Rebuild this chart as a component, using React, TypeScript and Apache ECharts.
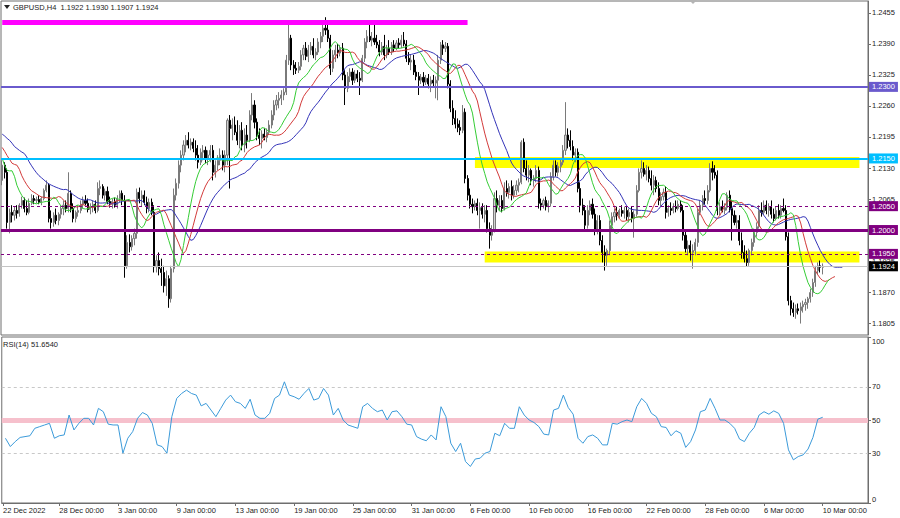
import React, { useEffect, useRef } from 'react';
import * as echarts from 'echarts';

const symbolName = 'GBPUSD,H4';

// H4 candles [open, high, low, close], 22 Dec 2022 -> 10 Mar 2023
const candles: number[][] = [
  // 0-9
  [1.2104,1.2146,1.2094,1.2136],[1.2136,1.2142,1.2108,1.2121],[1.2121,1.2129,1.2003,1.2016],[1.2016,1.2045,1.1993,1.2037],[1.2037,1.2052,1.2016,1.2031],
  [1.2031,1.2049,1.2020,1.2041],[1.2041,1.2052,1.2024,1.2035],[1.2035,1.2056,1.2028,1.2052],[1.2052,1.2070,1.2045,1.2062],[1.2062,1.2068,1.2037,1.2045],
  // 10-19
  [1.2045,1.2062,1.2031,1.2037],[1.2037,1.2066,1.2033,1.2056],[1.2056,1.2075,1.2052,1.2066],[1.2066,1.2073,1.2054,1.2062],[1.2062,1.2070,1.2056,1.2064],
  [1.2064,1.2073,1.2054,1.2058],[1.2058,1.2070,1.2052,1.2066],[1.2066,1.2087,1.2062,1.2083],[1.2083,1.2104,1.2079,1.2094],[1.2094,1.2098,1.2016,1.2024],
  // 20-29
  [1.2024,1.2041,1.2003,1.2016],[1.2016,1.2037,1.2007,1.2031],[1.2031,1.2045,1.2012,1.2020],[1.2020,1.2037,1.2010,1.2033],[1.2033,1.2052,1.2024,1.2045],
  [1.2045,1.2062,1.2031,1.2052],[1.2052,1.2062,1.2037,1.2045],[1.2045,1.2121,1.2037,1.2077],[1.2077,1.2083,1.2037,1.2045],[1.2045,1.2056,1.2016,1.2024],
  // 30-39
  [1.2024,1.2041,1.2016,1.2037],[1.2037,1.2052,1.2028,1.2041],[1.2041,1.2062,1.2035,1.2054],[1.2054,1.2070,1.2045,1.2062],[1.2062,1.2073,1.2052,1.2056],
  [1.2056,1.2066,1.2037,1.2043],[1.2043,1.2056,1.2033,1.2049],[1.2049,1.2062,1.2037,1.2054],[1.2054,1.2062,1.2035,1.2041],[1.2041,1.2100,1.2037,1.2087],
  // 40-49
  [1.2087,1.2104,1.2073,1.2091],[1.2091,1.2096,1.2066,1.2073],[1.2073,1.2087,1.2062,1.2081],[1.2081,1.2091,1.2054,1.2060],[1.2060,1.2070,1.2047,1.2054],
  [1.2054,1.2066,1.2045,1.2060],[1.2060,1.2068,1.2047,1.2052],[1.2052,1.2073,1.2045,1.2066],[1.2066,1.2083,1.2058,1.2077],[1.2077,1.2083,1.2052,1.2062],
  // 50-59
  [1.2062,1.2073,1.1900,1.1925],[1.1925,1.1989,1.1919,1.1974],[1.1974,1.1991,1.1953,1.1965],[1.1965,1.1989,1.1957,1.1982],[1.1982,1.2003,1.1968,1.1993],
  [1.1993,1.2087,1.1982,1.2079],[1.2079,1.2089,1.2056,1.2066],[1.2066,1.2083,1.2049,1.2073],[1.2073,1.2083,1.2052,1.2058],[1.2058,1.2070,1.2035,1.2045],
  // 60-69
  [1.2045,1.2066,1.2037,1.2058],[1.2058,1.2066,1.2031,1.2037],[1.2037,1.2052,1.1911,1.1923],[1.1923,1.1947,1.1911,1.1936],[1.1936,1.1953,1.1905,1.1919],
  [1.1919,1.1940,1.1883,1.1911],[1.1911,1.1925,1.1869,1.1883],[1.1883,1.1915,1.1862,1.1898],[1.1898,1.1905,1.1837,1.1856],[1.1856,1.1925,1.1848,1.1919],
  // 70-79
  [1.1919,1.2087,1.1911,1.2073],[1.2073,1.2108,1.2062,1.2098],[1.2098,1.2146,1.2087,1.2136],[1.2136,1.2167,1.2121,1.2157],[1.2157,1.2188,1.2146,1.2178],
  [1.2178,1.2199,1.2163,1.2188],[1.2188,1.2205,1.2171,1.2178],[1.2178,1.2192,1.2167,1.2184],[1.2184,1.2192,1.2163,1.2171],[1.2171,1.2188,1.2146,1.2157],
  // 80-89
  [1.2157,1.2178,1.2129,1.2142],[1.2142,1.2171,1.2136,1.2163],[1.2163,1.2178,1.2146,1.2167],[1.2167,1.2175,1.2140,1.2150],[1.2150,1.2167,1.2136,1.2157],
  [1.2157,1.2178,1.2142,1.2167],[1.2167,1.2178,1.2104,1.2121],[1.2121,1.2146,1.2110,1.2136],[1.2136,1.2157,1.2125,1.2146],[1.2146,1.2171,1.2136,1.2157],
  // 90-99
  [1.2157,1.2167,1.2125,1.2136],[1.2136,1.2167,1.2121,1.2157],[1.2157,1.2234,1.2136,1.2230],[1.2230,1.2241,1.2087,1.2213],[1.2213,1.2234,1.2188,1.2220],
  [1.2220,1.2238,1.2199,1.2205],[1.2205,1.2230,1.2178,1.2188],[1.2188,1.2220,1.2171,1.2209],[1.2209,1.2226,1.2167,1.2178],[1.2178,1.2213,1.2163,1.2199],
  // 100-109
  [1.2199,1.2220,1.2171,1.2188],[1.2188,1.2251,1.2184,1.2241],[1.2241,1.2287,1.2230,1.2262],[1.2262,1.2272,1.2213,1.2226],[1.2226,1.2234,1.2188,1.2199],
  [1.2199,1.2213,1.2178,1.2192],[1.2192,1.2209,1.2171,1.2201],[1.2201,1.2213,1.2188,1.2194],[1.2194,1.2213,1.2184,1.2205],[1.2205,1.2230,1.2199,1.2220],
  // 110-119
  [1.2220,1.2251,1.2213,1.2241],[1.2241,1.2272,1.2230,1.2262],[1.2262,1.2283,1.2251,1.2272],[1.2272,1.2289,1.2255,1.2276],[1.2276,1.2293,1.2262,1.2283],
  [1.2283,1.2297,1.2272,1.2289],[1.2289,1.2367,1.2283,1.2356],[1.2356,1.2436,1.2346,1.2402],[1.2402,1.2409,1.2335,1.2346],[1.2346,1.2356,1.2325,1.2339],
  // 120-129
  [1.2339,1.2352,1.2327,1.2335],[1.2335,1.2352,1.2329,1.2343],[1.2343,1.2377,1.2335,1.2367],[1.2367,1.2388,1.2356,1.2381],[1.2381,1.2394,1.2356,1.2364],
  [1.2364,1.2388,1.2352,1.2377],[1.2377,1.2394,1.2367,1.2385],[1.2385,1.2402,1.2360,1.2367],[1.2367,1.2381,1.2356,1.2373],[1.2373,1.2402,1.2367,1.2394],
  // 130-139
  [1.2394,1.2415,1.2381,1.2406],[1.2406,1.2436,1.2394,1.2423],[1.2423,1.2446,1.2409,1.2419],[1.2419,1.2430,1.2394,1.2402],[1.2402,1.2409,1.2325,1.2339],
  [1.2339,1.2377,1.2331,1.2367],[1.2367,1.2388,1.2352,1.2377],[1.2377,1.2390,1.2360,1.2371],[1.2371,1.2388,1.2364,1.2381],[1.2381,1.2392,1.2314,1.2325],
  // 140-149
  [1.2325,1.2335,1.2262,1.2297],[1.2297,1.2331,1.2289,1.2322],[1.2322,1.2339,1.2310,1.2331],[1.2331,1.2339,1.2304,1.2314],[1.2314,1.2335,1.2308,1.2327],
  [1.2327,1.2335,1.2310,1.2318],[1.2318,1.2331,1.2283,1.2314],[1.2314,1.2367,1.2310,1.2360],[1.2360,1.2402,1.2352,1.2394],[1.2394,1.2419,1.2381,1.2406],
  // 150-159
  [1.2406,1.2430,1.2394,1.2398],[1.2398,1.2415,1.2385,1.2402],[1.2402,1.2430,1.2388,1.2394],[1.2394,1.2409,1.2381,1.2388],[1.2388,1.2398,1.2364,1.2373],
  [1.2373,1.2394,1.2367,1.2385],[1.2385,1.2409,1.2356,1.2367],[1.2367,1.2388,1.2360,1.2381],[1.2381,1.2398,1.2367,1.2373],[1.2373,1.2394,1.2367,1.2388],
  // 160-169
  [1.2388,1.2398,1.2373,1.2381],[1.2381,1.2398,1.2377,1.2392],[1.2392,1.2402,1.2381,1.2388],[1.2388,1.2409,1.2381,1.2398],[1.2398,1.2415,1.2385,1.2390],
  [1.2390,1.2398,1.2352,1.2360],[1.2360,1.2373,1.2346,1.2352],[1.2352,1.2367,1.2335,1.2356],[1.2356,1.2367,1.2325,1.2331],[1.2331,1.2346,1.2314,1.2322],
  // 170-179
  [1.2322,1.2331,1.2283,1.2314],[1.2314,1.2327,1.2306,1.2320],[1.2320,1.2331,1.2301,1.2310],[1.2310,1.2325,1.2304,1.2318],[1.2318,1.2327,1.2297,1.2306],
  [1.2306,1.2322,1.2289,1.2314],[1.2314,1.2325,1.2301,1.2308],[1.2308,1.2322,1.2276,1.2314],[1.2314,1.2367,1.2272,1.2356],[1.2356,1.2394,1.2348,1.2388],
  // 180-189
  [1.2388,1.2398,1.2367,1.2381],[1.2381,1.2394,1.2373,1.2385],[1.2385,1.2392,1.2297,1.2306],[1.2306,1.2314,1.2247,1.2255],[1.2255,1.2272,1.2220,1.2234],
  [1.2234,1.2251,1.2213,1.2222],[1.2222,1.2234,1.2205,1.2215],[1.2215,1.2230,1.2199,1.2209],[1.2209,1.2262,1.2203,1.2247],[1.2247,1.2255,1.2098,1.2108],
  // 190-199
  [1.2108,1.2115,1.2062,1.2073],[1.2073,1.2087,1.2045,1.2054],[1.2054,1.2066,1.2035,1.2049],[1.2049,1.2062,1.2041,1.2056],[1.2056,1.2066,1.2031,1.2041],
  [1.2041,1.2058,1.2003,1.2047],[1.2047,1.2056,1.2024,1.2033],[1.2033,1.2052,1.2016,1.2041],[1.2041,1.2052,1.1995,1.2003],[1.2003,1.2016,1.1961,1.1989],
  // 200-209
  [1.1989,1.2010,1.1978,1.1999],[1.1999,1.2079,1.1995,1.2066],[1.2066,1.2083,1.2037,1.2052],[1.2052,1.2073,1.2041,1.2062],[1.2062,1.2073,1.2037,1.2045],
  [1.2045,1.2100,1.2041,1.2087],[1.2087,1.2104,1.2070,1.2079],[1.2079,1.2098,1.2066,1.2091],[1.2091,1.2104,1.2062,1.2073],[1.2073,1.2094,1.2066,1.2083],
  // 210-219
  [1.2083,1.2104,1.2073,1.2094],[1.2094,1.2108,1.2079,1.2100],[1.2100,1.2188,1.2096,1.2184],[1.2184,1.2192,1.2121,1.2129],[1.2129,1.2146,1.2104,1.2115],
  [1.2115,1.2136,1.2100,1.2125],[1.2125,1.2129,1.2094,1.2104],[1.2104,1.2115,1.2091,1.2108],[1.2108,1.2136,1.2100,1.2125],[1.2125,1.2133,1.2045,1.2056],
  // 220-229
  [1.2056,1.2066,1.2041,1.2052],[1.2052,1.2066,1.2045,1.2062],[1.2062,1.2070,1.2041,1.2049],[1.2049,1.2062,1.2037,1.2056],[1.2056,1.2121,1.2049,1.2112],
  [1.2112,1.2146,1.2104,1.2136],[1.2136,1.2146,1.2112,1.2121],[1.2121,1.2142,1.2112,1.2133],[1.2133,1.2150,1.2121,1.2142],[1.2142,1.2178,1.2136,1.2167],
  // 230-239
  [1.2167,1.2268,1.2157,1.2199],[1.2199,1.2213,1.2171,1.2188],[1.2188,1.2209,1.2167,1.2175],[1.2175,1.2188,1.2146,1.2157],[1.2157,1.2171,1.2142,1.2163],
  [1.2163,1.2171,1.2079,1.2087],[1.2087,1.2100,1.2037,1.2052],[1.2052,1.2066,1.2031,1.2041],[1.2041,1.2052,1.1999,1.2010],[1.2010,1.2052,1.2003,1.2041],
  // 240-249
  [1.2041,1.2062,1.2031,1.2054],[1.2054,1.2066,1.2024,1.2033],[1.2033,1.2045,1.1989,1.1999],[1.1999,1.2031,1.1991,1.2020],[1.2020,1.2031,1.1968,1.1978],
  [1.1978,1.1989,1.1932,1.1953],[1.1953,1.1968,1.1915,1.1947],[1.1947,1.1961,1.1925,1.1957],[1.1957,1.2020,1.1947,1.2010],[1.2010,1.2037,1.1999,1.2028],
  // 250-259
  [1.2028,1.2045,1.2016,1.2037],[1.2037,1.2049,1.2020,1.2031],[1.2031,1.2045,1.2024,1.2041],[1.2041,1.2052,1.2028,1.2035],[1.2035,1.2049,1.2024,1.2041],
  [1.2041,1.2049,1.2020,1.2028],[1.2028,1.2045,1.2016,1.2037],[1.2037,1.2049,1.2016,1.2024],[1.2024,1.2041,1.1984,1.2033],[1.2033,1.2094,1.2028,1.2083],
  // 260-269
  [1.2083,1.2129,1.2079,1.2121],[1.2121,1.2146,1.2108,1.2129],[1.2129,1.2142,1.2112,1.2117],[1.2117,1.2136,1.2104,1.2125],[1.2125,1.2133,1.2100,1.2108],
  [1.2108,1.2125,1.2083,1.2094],[1.2094,1.2115,1.2073,1.2104],[1.2104,1.2112,1.2079,1.2087],[1.2087,1.2100,1.2052,1.2062],[1.2062,1.2079,1.2049,1.2070],
  // 270-279
  [1.2070,1.2087,1.2062,1.2079],[1.2079,1.2091,1.2024,1.2037],[1.2037,1.2052,1.2028,1.2045],[1.2045,1.2058,1.2031,1.2041],[1.2041,1.2056,1.2035,1.2049],
  [1.2049,1.2062,1.2037,1.2045],[1.2045,1.2062,1.2041,1.2054],[1.2054,1.2062,1.2037,1.2041],[1.2041,1.2052,1.1978,1.1989],[1.1989,1.1999,1.1953,1.1961],
  // 280-289
  [1.1961,1.1978,1.1947,1.1968],[1.1968,1.1978,1.1936,1.1953],[1.1953,1.1970,1.1919,1.1957],[1.1957,1.1982,1.1947,1.1974],[1.1974,1.2045,1.1965,1.2037],
  [1.2037,1.2062,1.2031,1.2052],[1.2052,1.2073,1.2041,1.2066],[1.2066,1.2083,1.2052,1.2062],[1.2062,1.2094,1.2054,1.2083],[1.2083,1.2140,1.2079,1.2129],
  // 290-299
  [1.2129,1.2144,1.2104,1.2121],[1.2121,1.2136,1.2108,1.2115],[1.2115,1.2125,1.2031,1.2041],[1.2041,1.2058,1.2031,1.2049],[1.2049,1.2062,1.2037,1.2041],
  [1.2041,1.2056,1.2033,1.2047],[1.2047,1.2079,1.2041,1.2073],[1.2073,1.2083,1.2037,1.2045],[1.2045,1.2062,1.1978,1.2031],[1.2031,1.2041,1.2010,1.2016],
  // 300-309
  [1.2016,1.2031,1.2003,1.2020],[1.2020,1.2031,1.1968,1.1978],[1.1978,1.1995,1.1940,1.1953],[1.1953,1.1968,1.1932,1.1940],[1.1940,1.1957,1.1923,1.1932],
  [1.1932,1.1961,1.1925,1.1957],[1.1957,1.1982,1.1947,1.1974],[1.1974,1.2003,1.1965,1.1995],[1.1995,1.2016,1.1986,1.2007],[1.2007,1.2052,1.2003,1.2041],
  // 310-319
  [1.2041,1.2058,1.2028,1.2037],[1.2037,1.2062,1.2031,1.2052],[1.2052,1.2062,1.2033,1.2041],[1.2041,1.2056,1.2028,1.2049],[1.2049,1.2062,1.2024,1.2033],
  [1.2033,1.2045,1.2016,1.2024],[1.2024,1.2049,1.2020,1.2041],[1.2041,1.2054,1.2024,1.2031],[1.2031,1.2052,1.2024,1.2045],[1.2045,1.2066,1.2037,1.2041],
  // 320-329
  [1.2041,1.2052,1.1978,1.1986],[1.1986,1.1995,1.1842,1.1852],[1.1852,1.1862,1.1821,1.1835],[1.1835,1.1848,1.1818,1.1827],[1.1827,1.1844,1.1814,1.1835],
  [1.1835,1.1846,1.1823,1.1831],[1.1831,1.1848,1.1804,1.1839],[1.1839,1.1852,1.1827,1.1844],[1.1844,1.1856,1.1831,1.1848],[1.1848,1.1860,1.1835,1.1856],
  // 330-335
  [1.1856,1.1877,1.1848,1.1869],[1.1869,1.1898,1.1860,1.1890],[1.1890,1.1925,1.1881,1.1915],[1.1915,1.1932,1.1907,1.1925],[1.1925,1.1936,1.1911,1.1922],
  [1.1922,1.1930,1.1907,1.1924],
];

// RSI(14) readings, one every second bar (bars 1, 3, 5, ... 335)
const rsiValues: number[] = [
  39,34,37,39.5,40,40.5,45,46,47,48,
  39,40.5,41,53,44,48,51,51,47,57,
  55,47.5,47,47,30,39,43,51,54.5,53,
  48,35,34,30,52,63,66,68,66,65,
  58.5,60,56,52,57,62,65,61,60,57,
  62.5,53,51,51,54,63,65,73,65,64,
  62.5,66,69,62,63,69,65,53,57,50,
  47,46,45,58,60,57,55,56,50,55,
  55.5,52,47.5,47,40,38.5,37.5,41,38,58,
  52,36,31,36,25,22,26.5,27,30,31,
  42,40.5,48,45,45,58,53,50,48.5,46,
  41.5,41,56,57,65,57.5,53.5,39,36,40,
  41,39,35,35,48,47.5,49,50,49,58,
  63,60,54,52,46,45.5,40.5,43.5,42,33.5,
  37,44,55,56,63,57,50,50,48,45,
  38.5,37,42,45.5,53,55,53.5,55.5,54,48,
  32,26,28,29,32.5,39.5,50.5,51.654,
];

// Alligator lines before the first computed value (read from the left edge)
const jawLead = [1.2201, 1.2197, 1.2192, 1.2188, 1.2182, 1.2175, 1.2171, 1.2167];
const teethLead = [1.2173, 1.2165, 1.2156, 1.2148, 1.2140];
const lipsLead = [1.2150, 1.2135, 1.2125];

const timeLabels = ['22 Dec 2022', '28 Dec 00:00', '3 Jan 00:00', '9 Jan 00:00', '13 Jan 00:00', '19 Jan 00:00', '25 Jan 00:00', '31 Jan 00:00', '6 Feb 00:00', '10 Feb 00:00', '16 Feb 00:00', '22 Feb 00:00', '28 Feb 00:00', '6 Mar 00:00', '10 Mar 00:00'];
const timeLabelBars = [0, 23, 47, 71, 95, 119, 143, 167, 191, 215, 239, 263, 287, 311, 335];
const priceTicks = [1.1805, 1.187, 1.1935, 1.2, 1.2065, 1.213, 1.2195, 1.226, 1.2325, 1.239, 1.2455];
const rsiTicks = [0, 30, 50, 70, 100];

const slateLevel = 1.23;
const skyLevel = 1.215;
const purpleLevel = 1.2;
const dashedLevels = [1.205, 1.195];
const peakLinePrice = 1.2436;
const peakLineBars = [0, 190];
const zones = [[1.2153, 1.2130], [1.1955, 1.1932]];
const zoneBars = [[193, 350], [197, 350]];
const futureBars = 18;

const FONT = '"Liberation Sans", Arial, sans-serif';
const FS = 7.5;

export default function App() {
  const ref = useRef<HTMLDivElement>(null);
  useEffect(() => {
    if (!ref.current) return;
    const chart = echarts.init(ref.current, undefined, { renderer: 'svg' });
    const N = candles.length + futureBars;
    const categories = Array.from({ length: N }, (_, i) => String(i));
    const labelAt = new Map<number, string>(timeLabelBars.map((b, k) => [b, timeLabels[k]]));

    const alligator = (period: number, shift: number, lead: number[]) => {
      const out: (number | null)[] = new Array(N).fill(null);
      for (let j = 0; j < shift; j++) out[j] = lead[j];
      let s = lead[shift - 1];
      candles.forEach((c, i) => {
        const med = (c[1] + c[2]) / 2;
        s = (s * (period - 1) + med) / period;
        if (i + shift < N) out[i + shift] = +s.toFixed(5);
      });
      return out;
    };

    const rsiData: (number | null)[] = new Array(N).fill(null);
    rsiValues.forEach((v, k) => { rsiData[2 * k + 1] = v; });

    const last = candles[candles.length - 1];
    const bid = last[3];
    const header = `${symbolName}  ${last.map((v) => v.toFixed(4)).join(' ')}`;
    const rsiHeader = `RSI(14) ${rsiValues[rsiValues.length - 1].toFixed(4)}`;

    const boxLabel = (bg: string) => ({
      show: true,
      position: 'end',
      distance: 1,
      formatter: (p: any) => Number(p.value).toFixed(4),
      backgroundColor: bg,
      color: '#ffffff',
      padding: [1, 3, 1, 3],
      fontSize: FS,
      fontFamily: FONT,
    });

    const empty = new Array(N).fill(null);

    const option: any = {
      animation: false,
      backgroundColor: '#ffffff',
      textStyle: { fontFamily: FONT },
      grid: [
        { left: 1, top: 1, width: 867, height: 334, show: true, borderColor: '#6e6e6e', borderWidth: 1 },
        { left: 1, top: 337, width: 867, height: 166, show: true, borderColor: '#6e6e6e', borderWidth: 1 },
      ],
      xAxis: [
        {
          gridIndex: 0, type: 'category', data: categories, boundaryGap: true,
          axisLine: { show: false }, axisTick: { show: false }, axisLabel: { show: false }, splitLine: { show: false },
        },
        {
          gridIndex: 1, type: 'category', data: categories, boundaryGap: true,
          axisLine: { show: true, lineStyle: { color: '#6e6e6e' } },
          axisTick: { show: true, alignWithLabel: true, interval: (i: number) => labelAt.has(i), length: 3, lineStyle: { color: '#6e6e6e' } },
          axisLabel: {
            interval: (i: number) => labelAt.has(i),
            formatter: (_v: string, i: number) => labelAt.get(i) ?? '',
            align: 'left', fontSize: FS, color: '#222222', margin: 3, fontFamily: FONT,
          },
          splitLine: { show: false },
        },
      ],
      yAxis: [
        {
          gridIndex: 0, type: 'value', position: 'right', min: 1.178, max: 1.248, scale: true,
          splitLine: { show: false },
          axisLine: { show: true, lineStyle: { color: '#6e6e6e' } },
          axisTick: { show: true, length: 3, customValues: priceTicks, lineStyle: { color: '#6e6e6e' } },
          axisLabel: { customValues: priceTicks, formatter: (v: number) => v.toFixed(4), fontSize: FS, color: '#222222', margin: 4, fontFamily: FONT },
        },
        {
          gridIndex: 1, type: 'value', position: 'right', min: 0, max: 100,
          splitLine: { show: false },
          axisLine: { show: true, lineStyle: { color: '#6e6e6e' } },
          axisTick: { show: true, length: 3, customValues: rsiTicks, lineStyle: { color: '#6e6e6e' } },
          axisLabel: {
            customValues: rsiTicks, fontSize: FS, color: '#222222', margin: 4, fontFamily: FONT,
            verticalAlignMinLabel: 'bottom', verticalAlignMaxLabel: 'top',
          },
        },
      ],
      series: [
        {
          name: 'zones', type: 'line', xAxisIndex: 0, yAxisIndex: 0, data: empty, silent: true, showSymbol: false,
          markArea: {
            silent: true,
            itemStyle: { color: '#ffff00', opacity: 1 },
            data: zones.map((z, k) => [
              { coord: [zoneBars[k][0], z[0]] },
              { coord: [zoneBars[k][1], z[1]] },
            ]),
          },
        },
        {
          name: symbolName, type: 'candlestick', xAxisIndex: 0, yAxisIndex: 0,
          barWidth: 1.6,
          data: candles.map(([o, h, l, c]) => [o, c, l, h]),
          itemStyle: { color: '#d2d2d2', color0: '#000000', borderColor: '#7a7a7a', borderColor0: '#000000', borderWidth: 1 },
          silent: true,
        },
        {
          name: 'Jaw', type: 'line', xAxisIndex: 0, yAxisIndex: 0, data: alligator(13, 8, jawLead),
          showSymbol: false, silent: true, lineStyle: { color: '#3434b8', width: 1 },
        },
        {
          name: 'Teeth', type: 'line', xAxisIndex: 0, yAxisIndex: 0, data: alligator(8, 5, teethLead),
          showSymbol: false, silent: true, lineStyle: { color: '#d23a3a', width: 1 },
        },
        {
          name: 'Lips', type: 'line', xAxisIndex: 0, yAxisIndex: 0, data: alligator(5, 3, lipsLead),
          showSymbol: false, silent: true, lineStyle: { color: '#35cc35', width: 1 },
        },
        {
          name: 'levels', type: 'line', xAxisIndex: 0, yAxisIndex: 0, data: empty, silent: true, showSymbol: false,
          markLine: {
            silent: true, symbol: ['none', 'none'], precision: 4, label: { show: false },
            data: [
              [
                { coord: [peakLineBars[0], peakLinePrice], lineStyle: { color: '#ff00ff', width: 5, type: 'solid' }, label: { show: false } },
                { coord: [peakLineBars[1], peakLinePrice] },
              ],
              { yAxis: bid, lineStyle: { color: '#c4c4c4', width: 1, type: 'solid' }, label: boxLabel('#000000') },
              { yAxis: dashedLevels[1], lineStyle: { color: '#800080', width: 1, type: [3, 3] }, label: boxLabel('#800080') },
              { yAxis: dashedLevels[0], lineStyle: { color: '#800080', width: 1, type: [3, 3] }, label: boxLabel('#800080') },
              { yAxis: purpleLevel, lineStyle: { color: '#800080', width: 3, type: 'solid' }, label: boxLabel('#800080') },
              { yAxis: skyLevel, lineStyle: { color: '#00bfff', width: 2, type: 'solid' }, label: boxLabel('#00bfff') },
              { yAxis: slateLevel, lineStyle: { color: '#6a5acd', width: 2, type: 'solid' }, label: boxLabel('#6a5acd') },
            ],
          },
        },
        {
          name: 'rsiLevels', type: 'line', xAxisIndex: 1, yAxisIndex: 1, data: empty, silent: true, showSymbol: false,
          markLine: {
            silent: true, symbol: ['none', 'none'], z: 1, precision: 2, label: { show: false },
            data: [
              { yAxis: 70, lineStyle: { color: '#c8c8c8', width: 1, type: [3, 3] } },
              { yAxis: 30, lineStyle: { color: '#c8c8c8', width: 1, type: [3, 3] } },
              { yAxis: 50, lineStyle: { color: '#f6c0cc', width: 5, type: 'solid' } },
            ],
          },
        },
        {
          name: 'RSI(14)', type: 'line', xAxisIndex: 1, yAxisIndex: 1, data: rsiData, connectNulls: true,
          showSymbol: false, silent: true, lineStyle: { color: '#3b9ad9', width: 1 },
        },
      ],
      graphic: [
        { type: 'polygon', shape: { points: [[4, 5], [10, 5], [7, 9]] }, style: { fill: '#222222' }, silent: true },
        { type: 'text', left: 13, top: 3, style: { text: header, fontSize: FS, fontFamily: FONT, fill: '#222222' }, silent: true },
        { type: 'text', left: 3, top: 340, style: { text: rsiHeader, fontSize: FS, fontFamily: FONT, fill: '#222222' }, silent: true },
        { type: 'polygon', shape: { points: [[689, 0], [697, 0], [693, 4]] }, style: { fill: '#b4b4b4' }, silent: true },
      ],
    };

    chart.setOption(option);
    return () => chart.dispose();
  }, []);

  return <div ref={ref} style={{ position: 'absolute', left: 0, top: 0, width: 900, height: 518, background: '#fff' }} />;
}
